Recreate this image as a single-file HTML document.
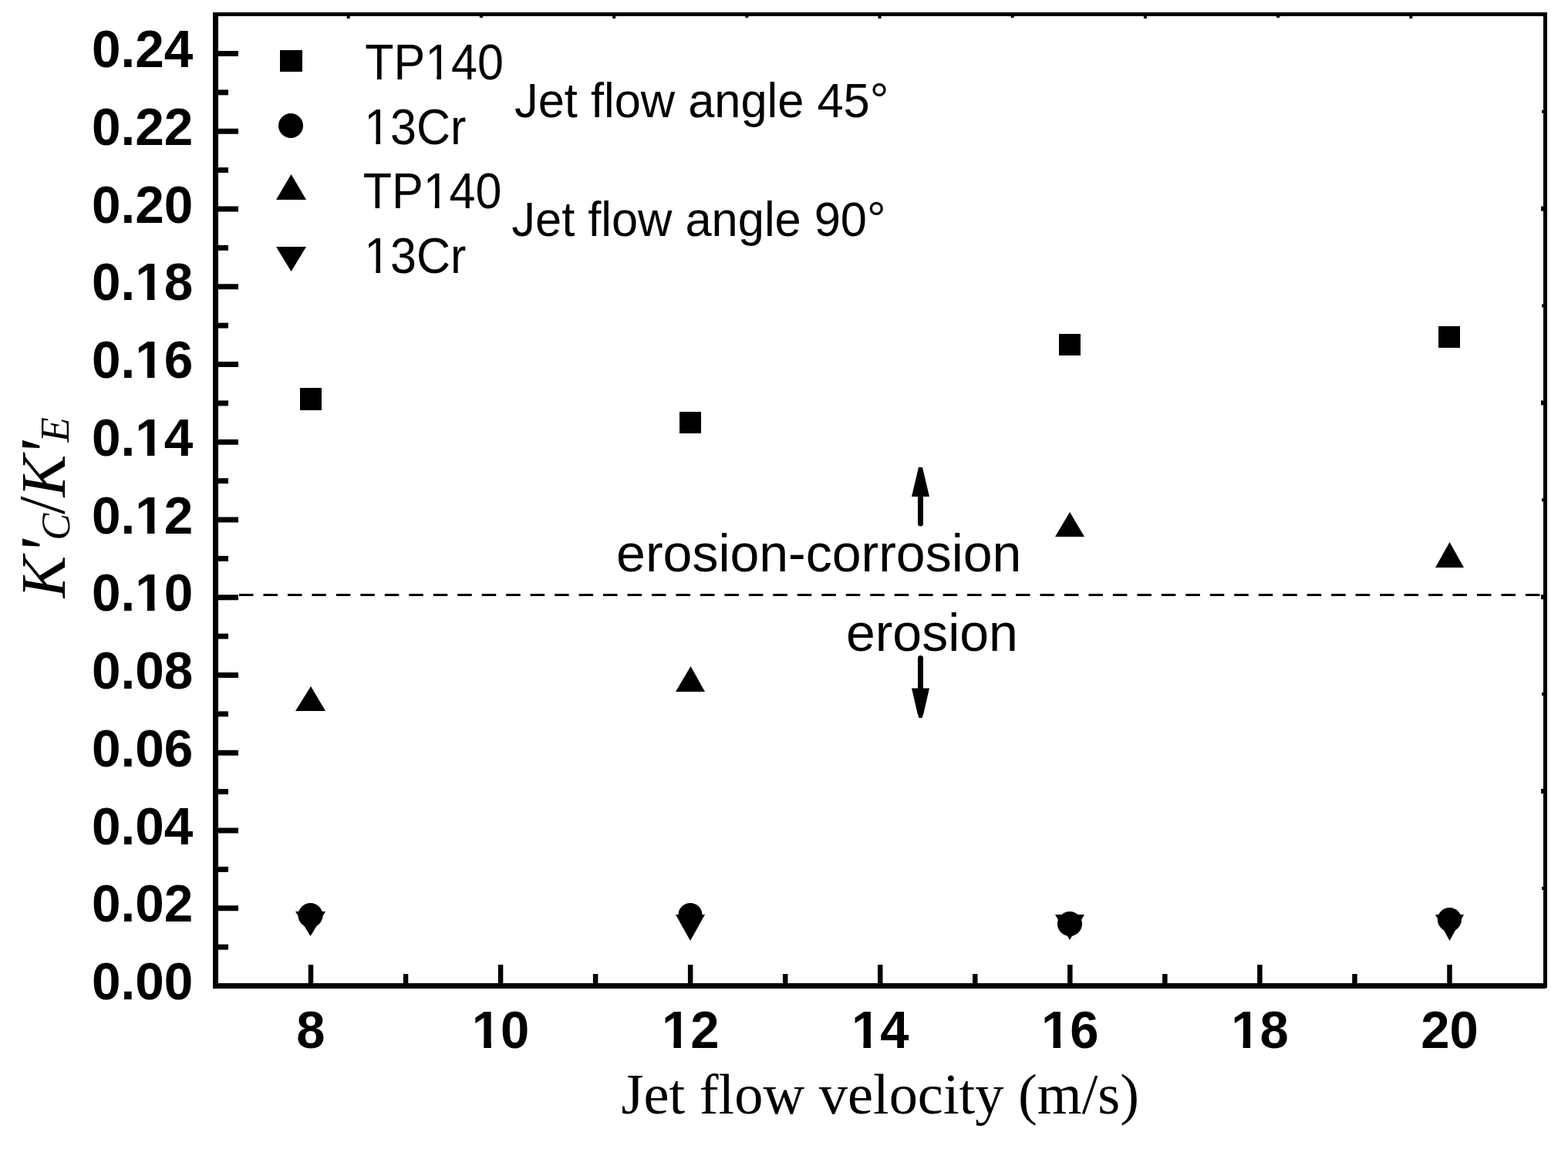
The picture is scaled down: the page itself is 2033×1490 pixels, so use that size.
<!DOCTYPE html>
<html><head><meta charset="utf-8"><title>Jet flow velocity chart</title>
<style>
html,body{margin:0;padding:0;background:#fff;}
body{width:2033px;height:1490px;overflow:hidden;position:relative;}
svg{position:absolute;left:0;top:0;display:block;}
.yl{font-family:"Liberation Sans",Arial,sans-serif;font-weight:bold;font-size:67.5px;}
.xl{font-family:"Liberation Sans",Arial,sans-serif;font-weight:bold;font-size:67px;}
.lg{font-family:"Liberation Sans",Arial,sans-serif;font-size:61px;}
.an{font-family:"Liberation Sans",Arial,sans-serif;font-size:61.4px;}
.er{font-family:"Liberation Sans",Arial,sans-serif;font-size:68px;}
.xt{font-family:"Liberation Serif","Times New Roman",serif;font-size:74.4px;}
.yt{font-family:"Liberation Serif","Times New Roman",serif;font-style:italic;}
</style></head>
<body>
<svg width="2033" height="1490" viewBox="0 0 2033 1490">
<rect width="2033" height="1490" fill="#fff"/>
<defs><clipPath id="cl1" clipPathUnits="userSpaceOnUse"><path clip-rule="evenodd" d="M-500,-500H631.4V500H-500ZM59.05,-7.24h12.85v10.24h-12.85ZM81.46,-7.24h12.00v10.24h-12.00Z"/></clipPath><clipPath id="cl2" clipPathUnits="userSpaceOnUse"><path clip-rule="evenodd" d="M-500,-500H631.4V500H-500ZM59.05,-7.24h12.85v10.24h-12.85ZM81.46,-7.24h12.00v10.24h-12.00Z"/></clipPath><clipPath id="cl3" clipPathUnits="userSpaceOnUse"><path clip-rule="evenodd" d="M-500,-500H631.4V500H-500ZM59.05,-7.24h12.85v10.24h-12.85ZM81.46,-7.24h12.00v10.24h-12.00Z"/></clipPath><clipPath id="cl4" clipPathUnits="userSpaceOnUse"><path clip-rule="evenodd" d="M-500,-500H631.4V500H-500ZM59.05,-7.24h12.85v10.24h-12.85ZM81.46,-7.24h12.00v10.24h-12.00Z"/></clipPath><clipPath id="cl5" clipPathUnits="userSpaceOnUse"><path clip-rule="evenodd" d="M-500,-500H631.4V500H-500ZM59.05,-7.24h12.85v10.24h-12.85ZM81.46,-7.24h12.00v10.24h-12.00Z"/></clipPath><clipPath id="cl6" clipPathUnits="userSpaceOnUse"><path clip-rule="evenodd" d="M-500,-500H574.5V500H-500ZM2.72,-7.19h12.77v10.19h-12.77ZM24.98,-7.19h11.92v10.19h-11.92Z"/></clipPath><clipPath id="cl7" clipPathUnits="userSpaceOnUse"><path clip-rule="evenodd" d="M-500,-500H574.5V500H-500ZM2.72,-7.19h12.77v10.19h-12.77ZM24.98,-7.19h11.92v10.19h-11.92Z"/></clipPath><clipPath id="cl8" clipPathUnits="userSpaceOnUse"><path clip-rule="evenodd" d="M-500,-500H574.5V500H-500ZM2.72,-7.19h12.77v10.19h-12.77ZM24.98,-7.19h11.92v10.19h-11.92Z"/></clipPath><clipPath id="cl9" clipPathUnits="userSpaceOnUse"><path clip-rule="evenodd" d="M-500,-500H574.5V500H-500ZM2.72,-7.19h12.77v10.19h-12.77ZM24.98,-7.19h11.92v10.19h-11.92Z"/></clipPath><clipPath id="cl10" clipPathUnits="userSpaceOnUse"><path clip-rule="evenodd" d="M-500,-500H574.5V500H-500ZM2.72,-7.19h12.77v10.19h-12.77ZM24.98,-7.19h11.92v10.19h-11.92Z"/></clipPath><clipPath id="cl11" clipPathUnits="userSpaceOnUse"><path clip-rule="evenodd" d="M-500,-500H679.7V500H-500ZM81.09,-4.91h12.04v7.91h-12.04ZM98.83,-4.91h11.57v7.91h-11.57Z"/></clipPath><clipPath id="cl12" clipPathUnits="userSpaceOnUse"><path clip-rule="evenodd" d="M-500,-500H632.2V500H-500ZM3.15,-4.91h12.04v7.91h-12.04ZM20.88,-4.91h11.57v7.91h-11.57Z"/></clipPath><clipPath id="cl13" clipPathUnits="userSpaceOnUse"><path clip-rule="evenodd" d="M-500,-500H679.7V500H-500ZM81.09,-4.91h12.04v7.91h-12.04ZM98.83,-4.91h11.57v7.91h-11.57Z"/></clipPath><clipPath id="cl14" clipPathUnits="userSpaceOnUse"><path clip-rule="evenodd" d="M-500,-500H632.2V500H-500ZM3.15,-4.91h12.04v7.91h-12.04ZM20.88,-4.91h11.57v7.91h-11.57Z"/></clipPath><clipPath id="cl15" clipPathUnits="userSpaceOnUse"><path clip-rule="evenodd" d="M-500,-500H3000V500H-500ZM10.82,-43.74h9.47v9.26h-9.47Z"/></clipPath><clipPath id="cl16" clipPathUnits="userSpaceOnUse"><path clip-rule="evenodd" d="M-500,-500H3000V500H-500ZM10.82,-43.74h9.47v9.26h-9.47Z"/></clipPath></defs>
<rect x="276" y="16" width="7" height="1266" fill="#000"/>
<rect x="276" y="1275" width="1728" height="7" fill="#000"/>
<rect x="276" y="16" width="1730" height="5" fill="#000"/>
<rect x="2001" y="16" width="5" height="1265" fill="#000"/>
<rect x="283" y="1275.00" width="26" height="7" fill="#000"/>
<rect x="283" y="1224.62" width="13" height="7" fill="#000"/>
<rect x="283" y="1174.25" width="26" height="7" fill="#000"/>
<rect x="283" y="1123.88" width="13" height="7" fill="#000"/>
<rect x="283" y="1073.50" width="26" height="7" fill="#000"/>
<rect x="283" y="1023.12" width="13" height="7" fill="#000"/>
<rect x="283" y="972.75" width="26" height="7" fill="#000"/>
<rect x="283" y="922.38" width="13" height="7" fill="#000"/>
<rect x="283" y="872.00" width="26" height="7" fill="#000"/>
<rect x="283" y="821.62" width="13" height="7" fill="#000"/>
<rect x="283" y="771.25" width="26" height="7" fill="#000"/>
<rect x="283" y="720.88" width="13" height="7" fill="#000"/>
<rect x="283" y="670.50" width="26" height="7" fill="#000"/>
<rect x="283" y="620.12" width="13" height="7" fill="#000"/>
<rect x="283" y="569.75" width="26" height="7" fill="#000"/>
<rect x="283" y="519.38" width="13" height="7" fill="#000"/>
<rect x="283" y="469.00" width="26" height="7" fill="#000"/>
<rect x="283" y="418.62" width="13" height="7" fill="#000"/>
<rect x="283" y="368.25" width="26" height="7" fill="#000"/>
<rect x="283" y="317.88" width="13" height="7" fill="#000"/>
<rect x="283" y="267.50" width="26" height="7" fill="#000"/>
<rect x="283" y="217.12" width="13" height="7" fill="#000"/>
<rect x="283" y="166.75" width="26" height="7" fill="#000"/>
<rect x="283" y="116.38" width="13" height="7" fill="#000"/>
<rect x="283" y="66.00" width="26" height="7" fill="#000"/>
<rect x="399.75" y="1251" width="6.5" height="24" fill="#000"/>
<rect x="522.79" y="1263" width="6.5" height="12" fill="#000"/>
<rect x="645.83" y="1251" width="6.5" height="24" fill="#000"/>
<rect x="768.87" y="1263" width="6.5" height="12" fill="#000"/>
<rect x="891.91" y="1251" width="6.5" height="24" fill="#000"/>
<rect x="1014.95" y="1263" width="6.5" height="12" fill="#000"/>
<rect x="1137.99" y="1251" width="6.5" height="24" fill="#000"/>
<rect x="1261.03" y="1263" width="6.5" height="12" fill="#000"/>
<rect x="1384.07" y="1251" width="6.5" height="24" fill="#000"/>
<rect x="1507.11" y="1263" width="6.5" height="12" fill="#000"/>
<rect x="1630.15" y="1251" width="6.5" height="24" fill="#000"/>
<rect x="1753.19" y="1263" width="6.5" height="12" fill="#000"/>
<rect x="1876.23" y="1251" width="6.5" height="24" fill="#000"/>
<rect x="1999" y="142.7" width="2" height="4" fill="#000"/>
<rect x="1998" y="267.6" width="3" height="6" fill="#000"/>
<rect x="1999" y="394.5" width="2" height="4" fill="#000"/>
<rect x="1998" y="519.4" width="3" height="6" fill="#000"/>
<rect x="1999" y="646.3" width="2" height="4" fill="#000"/>
<rect x="1998" y="771.2" width="3" height="6" fill="#000"/>
<rect x="1999" y="898.1" width="2" height="4" fill="#000"/>
<rect x="1998" y="1023.0" width="3" height="6" fill="#000"/>
<rect x="1999" y="1149.9" width="2" height="4" fill="#000"/>
<rect x="449.7" y="21" width="4" height="3" fill="#000"/>
<rect x="621.9" y="21" width="4" height="2" fill="#000"/>
<rect x="794.1" y="21" width="4" height="3" fill="#000"/>
<rect x="966.3" y="21" width="4" height="2" fill="#000"/>
<rect x="1138.5" y="21" width="4" height="3" fill="#000"/>
<rect x="1310.7" y="21" width="4" height="2" fill="#000"/>
<rect x="1482.9" y="21" width="4" height="3" fill="#000"/>
<rect x="1655.1" y="21" width="4" height="2" fill="#000"/>
<rect x="1827.3" y="21" width="4" height="3" fill="#000"/>
<text transform="translate(119.00 1296.00) scale(1 1.02)" class="yl">0.00</text>
<text transform="translate(119.00 1195.25) scale(1 1.02)" class="yl">0.02</text>
<text transform="translate(119.00 1094.50) scale(1 1.02)" class="yl">0.04</text>
<text transform="translate(119.00 993.75) scale(1 1.02)" class="yl">0.06</text>
<text transform="translate(119.00 893.00) scale(1 1.02)" class="yl">0.08</text>
<text transform="translate(119.00 792.25) scale(1 1.02)" class="yl" clip-path="url(#cl1)">0.10</text>
<text transform="translate(119.00 691.50) scale(1 1.02)" class="yl" clip-path="url(#cl2)">0.12</text>
<text transform="translate(119.00 590.75) scale(1 1.02)" class="yl" clip-path="url(#cl3)">0.14</text>
<text transform="translate(119.00 490.00) scale(1 1.02)" class="yl" clip-path="url(#cl4)">0.16</text>
<text transform="translate(119.00 389.25) scale(1 1.02)" class="yl" clip-path="url(#cl5)">0.18</text>
<text transform="translate(119.00 288.50) scale(1 1.02)" class="yl">0.20</text>
<text transform="translate(119.00 187.75) scale(1 1.02)" class="yl">0.22</text>
<text transform="translate(119.00 87.00) scale(1 1.02)" class="yl">0.24</text>
<text transform="translate(384.37 1358.80) scale(1 1.03)" class="xl">8</text>
<text transform="translate(611.82 1358.80) scale(1 1.03)" class="xl" clip-path="url(#cl6)">10</text>
<text transform="translate(857.90 1358.80) scale(1 1.03)" class="xl" clip-path="url(#cl7)">12</text>
<text transform="translate(1103.98 1358.80) scale(1 1.03)" class="xl" clip-path="url(#cl8)">14</text>
<text transform="translate(1350.06 1358.80) scale(1 1.03)" class="xl" clip-path="url(#cl9)">16</text>
<text transform="translate(1596.14 1358.80) scale(1 1.03)" class="xl" clip-path="url(#cl10)">18</text>
<text transform="translate(1842.22 1358.80) scale(1 1.03)" class="xl">20</text>
<text transform="translate(473.20 102.50) scale(1 1.055)" class="lg" clip-path="url(#cl11)">TP140</text>
<text transform="translate(472.20 186.50) scale(1 1.055)" class="lg" clip-path="url(#cl12)">13Cr</text>
<text transform="translate(470.70 270.00) scale(1 1.055)" class="lg" clip-path="url(#cl13)">TP140</text>
<text transform="translate(472.20 353.50) scale(1 1.055)" class="lg" clip-path="url(#cl14)">13Cr</text>
<text transform="translate(667.00 151.50) scale(1 1.04)" class="an" clip-path="url(#cl15)">Jet flow angle 45°</text>
<text transform="translate(663.30 306.00) scale(1 1.04)" class="an" clip-path="url(#cl16)">Jet flow angle 90°</text>
<line x1="310" y1="771.5" x2="1997" y2="771.5" stroke="#000" stroke-width="3" stroke-dasharray="18.5 12.97"/>
<!-- legend symbols -->
<rect x="363" y="65" width="29" height="28" fill="#000"/>
<circle cx="377" cy="163" r="16" fill="#000"/>
<polygon points="358,259 397,259 377.5,226" fill="#000"/>
<polygon points="358,320 397,320 377.5,352" fill="#000"/>
<!-- legend text -->
<!-- annotations -->
<text x="799.1" y="741" class="er">erosion-corrosion</text>
<text x="1096.9" y="844" class="er">erosion</text>
<!-- up arrow -->
<polygon points="1191,606 1196,606 1205,644 1182,644" fill="#000"/>
<rect x="1190" y="643" width="7" height="37" fill="#000"/>
<circle cx="1193.5" cy="679" r="3.5" fill="#000"/>
<!-- down arrow -->
<rect x="1190" y="853" width="7" height="41" fill="#000"/>
<circle cx="1193.5" cy="853.5" r="3.5" fill="#000"/>
<polygon points="1182,892.5 1205,892.5 1197.5,925 1195.5,931 1191.5,931 1189.5,925" fill="#000"/>
<!-- series squares -->
<rect x="389" y="503" width="28" height="29" fill="#000"/>
<rect x="881" y="534" width="28" height="28" fill="#000"/>
<rect x="1373" y="433" width="28" height="28" fill="#000"/>
<rect x="1865" y="423" width="28" height="28" fill="#000"/>
<!-- series up triangles -->
<polygon points="383,922 422,922 403,890" fill="#000"/>
<polygon points="876,897 914,897 895.5,864" fill="#000"/>
<polygon points="1368,696 1406,696 1387,664" fill="#000"/>
<polygon points="1861,736 1898,736 1879.5,703" fill="#000"/>
<!-- series circles -->
<circle cx="402.5" cy="1187" r="16" fill="#000"/>
<circle cx="895" cy="1186.5" r="15.5" fill="#000"/>
<circle cx="1387" cy="1198" r="16" fill="#000"/>
<circle cx="1879.4" cy="1192.5" r="15.5" fill="#000"/>
<!-- series down triangles -->
<polygon points="383,1182 422,1182 402.5,1214" fill="#000"/>
<polygon points="876,1186 914,1186 895,1220" fill="#000"/>
<polygon points="1368,1186 1406,1186 1387,1219" fill="#000"/>
<polygon points="1861,1186 1898,1186 1879.5,1220" fill="#000"/>
<!-- x title -->
<text x="805.6" y="1444.4" class="xt">Jet flow velocity (m/s)</text>
<!-- y title -->
<g transform="translate(84 775.5) rotate(-90)"><text class="yt"><tspan x="-0.05" y="0" font-size="82">K</tspan><tspan x="55.4" y="8.1" font-size="95.3">'</tspan><tspan x="74.66" y="5.53" font-size="52.5">C</tspan><tspan x="108.5" y="-0.74" font-size="84.3" font-style="normal">/</tspan><tspan x="131.1" y="0" font-size="82">K</tspan><tspan x="182.9" y="8.1" font-size="95.3">'</tspan><tspan x="202" y="5" font-size="53">E</tspan></text></g>

</svg>
</body></html>
